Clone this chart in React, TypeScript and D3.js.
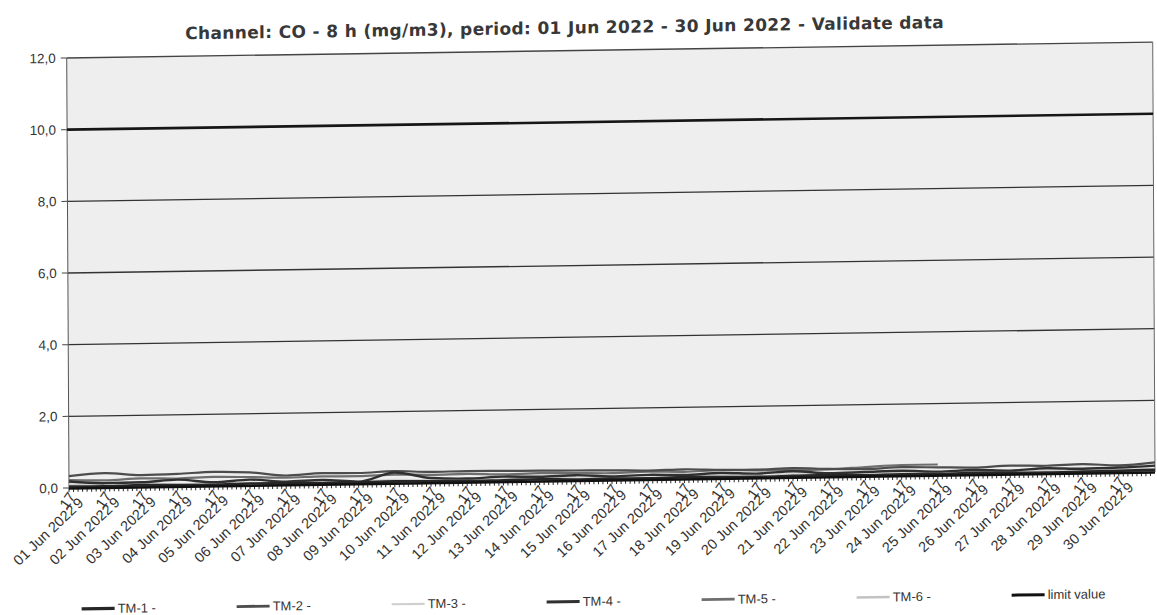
import * as d3 from 'd3';

// Page and plot geometry
const W = 1157;
const H = 615;
const PW = 1086;
const PH = 430;

const periodStart = new Date(2022, 5, 1);
const periodEnd = new Date(2022, 6, 1);

const title = 'Channel: CO - 8 h (mg/m3), period: 01 Jun 2022 - 30 Jun 2022 - Validate data';

// daily readings at 00:00, 01 Jun .. 01 Jul (mg/m3)
const tm1 = [0.04, 0.03, 0.05, 0.04, 0.03, 0.05, 0.04, 0.03, 0.04, 0.05, 0.04, 0.03, 0.04, 0.05, 0.03, 0.04, 0.03, 0.05, 0.04, 0.03, 0.04, 0.05, 0.03, 0.04, 0.03, 0.05, 0.04, 0.03, 0.04, 0.05, 0.06];
const tm2 = [0.33, 0.4, 0.33, 0.35, 0.39, 0.36, 0.26, 0.31, 0.3, 0.34, 0.3, 0.31, 0.3, 0.29, 0.28, 0.27, 0.25, 0.27, 0.24, 0.23, 0.26, 0.22, 0.2, 0.24, 0.22, 0.2, 0.24, 0.22, 0.25, 0.2, 0.27];
const tm3 = [0.1, 0.08, 0.12, 0.06, 0.1, 0.08, 0.05, 0.09, 0.07, 0.1, 0.08, 0.06, 0.09, 0.07, 0.1, 0.08, 0.06, 0.09, 0.07, 0.06, 0.09, 0.08, 0.05, 0.08, 0.07, 0.09, 0.06, 0.08, 0.07, 0.09, 0.1];
const tm4 = [0.18, 0.12, 0.13, 0.19, 0.1, 0.16, 0.09, 0.12, 0.06, 0.3, 0.13, 0.1, 0.14, 0.12, 0.15, 0.1, 0.13, 0.11, 0.15, 0.12, 0.17, 0.1, 0.12, 0.14, 0.1, 0.13, 0.1, 0.15, 0.12, 0.14, 0.18];
const tm5 = [0.22, 0.2, 0.24, 0.22, 0.25, 0.23, 0.2, 0.22, 0.21, 0.24, 0.22, 0.23, 0.2, 0.22, 0.21, 0.19, 0.22, 0.2, 0.23, 0.21, 0.2, 0.21, 0.26, 0.3, 0.3, null, null, null, null, null, null];
const tm6 = [0.02, 0.03, 0.02, 0.01, 0.03, 0.02, 0.02, 0.03, 0.01, 0.02, 0.03, 0.02, 0.01, 0.02, 0.03, 0.02, 0.02, 0.01, 0.03, 0.02, 0.02, 0.03, 0.01, 0.02, 0.02, 0.03, 0.02, 0.01, 0.02, 0.03, 0.02];

const limitValue = 10;
const yTicks = [0, 2, 4, 6, 8, 10, 12];

const series = [
  { name: 'TM-1 -', values: tm1, color: '#262626', width: 2.6 },
  { name: 'TM-2 -', values: tm2, color: '#4d4d4d', width: 2.2 },
  { name: 'TM-3 -', values: tm3, color: '#cfcfcf', width: 1.6 },
  { name: 'TM-4 -', values: tm4, color: '#303030', width: 2.4 },
  { name: 'TM-5 -', values: tm5, color: '#6e6e6e', width: 2.2 },
  { name: 'TM-6 -', values: tm6, color: '#c2c2c2', width: 1.8 },
];

const drawOrder = [5, 2, 4, 1, 3, 0];

const fmtDay = d3.timeFormat('%d %b %Y');
const fmtY = (v: number) => v.toFixed(1).replace('.', ',');

export default function App() {
  const x = d3.scaleTime().domain([periodStart, periodEnd]).range([0, PW]);
  const y = d3.scaleLinear().domain([0, 12]).range([PH, 0]);

  const times = d3.timeDay.range(periodStart, d3.timeDay.offset(periodEnd, 1));
  const days = d3.timeDay.range(periodStart, periodEnd);
  const minor = d3.timeHour.every(3)!.range(periodStart, periodEnd);

  const line = d3
    .line<[Date, number | null]>()
    .defined((d) => d[1] != null)
    .x((d) => x(d[0]))
    .y((d) => y(d[1] as number))
    .curve(d3.curveMonotoneX);

  const legendItems = [
    ...series.map((s) => ({ name: s.name, color: s.color, width: s.width + 0.6 })),
    { name: 'limit value', color: '#111', width: 3 },
  ];

  return (
    <svg
      width={W}
      height={H}
      style={{ position: 'absolute', left: 0, top: 0, background: '#fff' }}
      fontFamily="'Liberation Sans', Arial, sans-serif"
    >
      {/* scanned page is a little skewed */}
      <g transform="matrix(1,-0.0147,0.00535,1,66.7,58)">
        <text
          x={498}
          y={-17}
          textAnchor="middle"
          fontFamily="'DejaVu Sans', Verdana, sans-serif"
          fontWeight="bold"
          fontSize={17}
          letterSpacing={0.35}
          fill="#383838"
        >
          {title}
        </text>

        <rect x={0} y={0} width={PW} height={PH} fill="#eeeeee" />

        {yTicks.map((t) => (
          <g key={t}>
            {t > 0 && t !== limitValue && (
              <line x1={0} x2={PW} y1={y(t)} y2={y(t)} stroke={t === 12 ? '#444' : '#333'} strokeWidth={1.3} />
            )}
            <line x1={-6} x2={0} y1={y(t)} y2={y(t)} stroke="#444" strokeWidth={1} />
            <text x={-11} y={y(t)} dy="0.35em" textAnchor="end" fontSize={13.5} fill="#333">
              {fmtY(t)}
            </text>
          </g>
        ))}

        <line x1={0} x2={0} y1={0} y2={PH} stroke="#555" strokeWidth={1} />
        <line x1={PW} x2={PW} y1={0} y2={PH} stroke="#666" strokeWidth={1} />

        {drawOrder.map((i) => {
          const s = series[i];
          const pts = times.map((t, k) => [t, s.values[k]] as [Date, number | null]);
          return (
            <path key={s.name} d={line(pts) ?? ''} fill="none" stroke={s.color} strokeWidth={s.width} />
          );
        })}

        <line x1={0} x2={PW} y1={y(limitValue)} y2={y(limitValue)} stroke="#161616" strokeWidth={2.6} />

        {/* x axis with dense ticks */}
        {minor.map((t, i) => (
          <line key={i} x1={x(t)} x2={x(t)} y1={PH} y2={PH + 4} stroke="#2a2a2a" strokeWidth={1} />
        ))}
        <line x1={0} x2={PW} y1={PH + 0.5} y2={PH + 0.5} stroke="#111" strokeWidth={2.5} />

        {days.map((d) => {
          const ax = x(d) + 8;
          const ay = PH + 23;
          return (
            <g key={+d} transform={`translate(${ax},${ay}) rotate(-43)`} fill="#333" fontSize={14.5}>
              <text textAnchor="end">{fmtDay(d)}</text>
              <text x={2}>9</text>
              <text x={-5} y={-9} transform="rotate(-12)">17</text>
            </g>
          );
        })}

        {legendItems.map((it, i) => {
          const lx = 12 + i * 155;
          const ly = 551;
          return (
            <g key={it.name}>
              <line x1={lx} x2={lx + 33} y1={ly} y2={ly} stroke={it.color} strokeWidth={it.width} />
              <text x={lx + 36} y={ly + 4.5} fontSize={13} fill="#333">
                {it.name}
              </text>
            </g>
          );
        })}
      </g>
    </svg>
  );
}
